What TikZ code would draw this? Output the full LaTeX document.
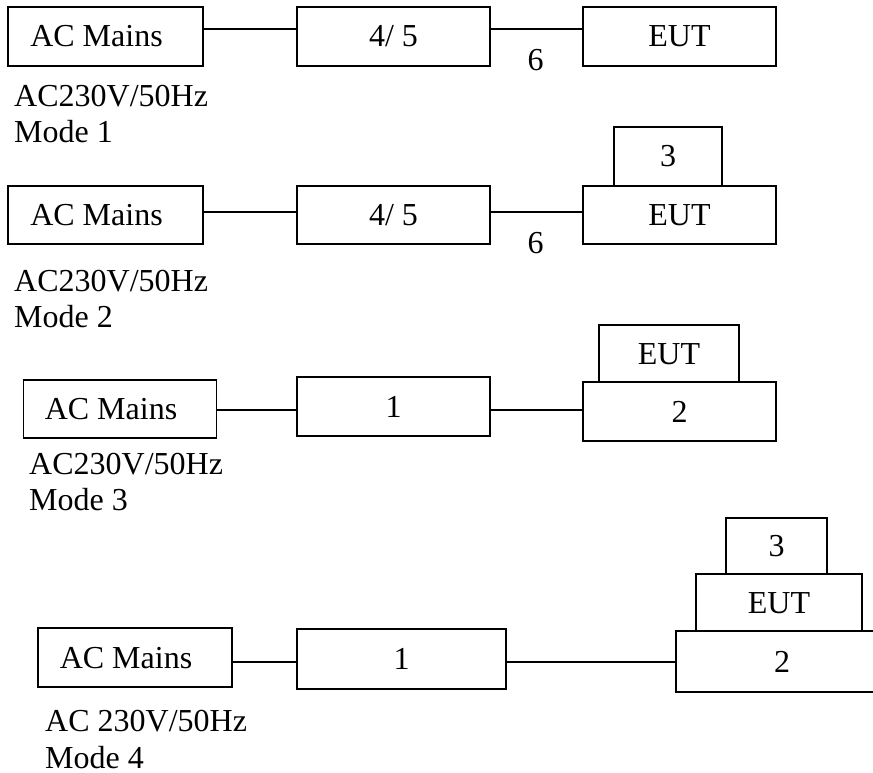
\documentclass[tikz,border=0pt]{standalone}
\usepackage{fontspec}
\setmainfont{Liberation Serif}
\begin{document}
\begin{tikzpicture}[x=1pt,y=1pt,
  box/.style={draw, line width=1.5pt, inner sep=0pt, text height=21pt, text depth=0pt, font=\fontsize{32}{36}\selectfont},
  lbl/.style={inner sep=0pt, anchor=base west, font=\fontsize{32}{36}\selectfont},
  num/.style={inner sep=0pt, text height=21pt, text depth=0pt, font=\fontsize{32}{36}\selectfont},
  wire/.style={line width=1.5pt}]
\clip (0,0) rectangle (873,-773);
% ---------- Mode 1
\node[box, minimum width=195pt, minimum height=59pt] (m1) at (105.5,-36.5) {AC Mains\kern18pt};
\node[box, minimum width=193pt, minimum height=59pt] (b1) at (393.5,-36.5) {4/ 5};
\node[box, minimum width=193pt, minimum height=59pt] (e1) at (679.5,-36.5) {EUT};
\coordinate (l1) at (0,-29);
\draw[wire] (m1.east |- l1) -- (b1.west |- l1);
\draw[wire] (b1.east |- l1) -- (e1.west |- l1);
\node[num] (s1) at (535.5,-60) {6};
\node[lbl] (v1) at (14,-107) {AC230V/50Hz};
\node[lbl] (d1) at (14,-143) {Mode 1};
% ---------- Mode 2
\node[box, minimum width=108pt, minimum height=59pt] (t2) at (668,-156.5) {3};
\node[box, minimum width=195pt, minimum height=58pt] (m2) at (105.5,-215) {AC Mains\kern18pt};
\node[box, minimum width=193pt, minimum height=58pt] (b2) at (393.5,-215) {4/ 5};
\node[box, minimum width=193pt, minimum height=58pt] (e2) at (679.5,-215) {EUT};
\coordinate (l2) at (0,-212);
\draw[wire] (m2.east |- l2) -- (b2.west |- l2);
\draw[wire] (b2.east |- l2) -- (e2.west |- l2);
\node[num] (s2) at (535.5,-243) {6};
\node[lbl] (v2) at (14,-291.5) {AC230V/50Hz};
\node[lbl] (d2) at (14,-327) {Mode 2};
% ---------- Mode 3
\node[box, minimum width=140pt, minimum height=57pt] (e3) at (669,-353.5) {EUT};
\node[box, minimum width=193pt, minimum height=58pt] (m3) at (120,-409) {AC Mains\kern18pt};
\node[box, minimum width=193pt, minimum height=59pt] (o3) at (393.5,-406.5) {1};
\node[box, minimum width=193pt, minimum height=59pt] (w3) at (679.5,-411.5) {2};
\coordinate (l3) at (0,-410);
\draw[wire] (m3.east |- l3) -- (o3.west |- l3);
\draw[wire] (o3.east |- l3) -- (w3.west |- l3);
\node[lbl] (v3) at (29,-474.5) {AC230V/50Hz};
\node[lbl] (d3) at (29,-510) {Mode 3};
% ---------- Mode 4
\node[box, minimum width=101pt, minimum height=56pt] (t4) at (776.5,-546) {3};
\node[box, minimum width=166pt, minimum height=57pt] (e4) at (779,-602.5) {EUT};
\node[box, minimum width=212pt, minimum height=61pt] (w4) at (782,-661.5) {2};
\node[box, minimum width=194pt, minimum height=59pt] (m4) at (135,-657.5) {AC Mains\kern18pt};
\node[box, minimum width=209pt, minimum height=60pt] (o4) at (401.5,-659) {1};
\coordinate (l4) at (0,-662);
\draw[wire] (m4.east |- l4) -- (o4.west |- l4);
\draw[wire] (o4.east |- l4) -- (w4.west |- l4);
\node[lbl] (v4) at (45,-731.5) {AC 230V/50Hz};
\node[lbl] (d4) at (45,-768) {Mode 4};
\end{tikzpicture}
\end{document}
